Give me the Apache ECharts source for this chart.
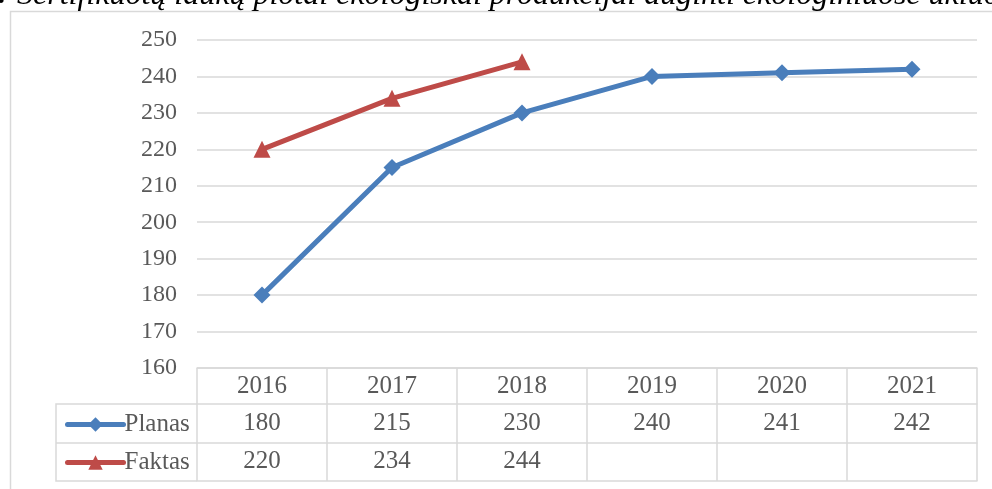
<!DOCTYPE html>
<html><head><meta charset="utf-8">
<script src="https://cdn.jsdelivr.net/npm/echarts@6/dist/echarts.min.js"></script>
<style>html,body{margin:0;padding:0;background:#fff}#c{width:992px;height:489px}</style>
</head><body><div id="c"></div>
<script>
const years = ['2016','2017','2018','2019','2020','2021'];
const planas = [180, 215, 230, 240, 241, 242];
const faktas = [220, 234, 244, null, null, null];
const yTicks = {min: 160, max: 250, interval: 10};
const titleText = 'Sertifikuotų laukų plotai ekologiškai produkcijai auginti ekologiniuose ūkiuose';

const FONT = 'Liberation Serif';
const TXT = '#595959';
const GRIDC = '#D9D9D9';
const BLUE = '#4A7EBB';
const RED = '#BE4B48';

const chart = echarts.init(document.getElementById('c'), null, {renderer: 'canvas'});
const rowLabel = (arr) => (v, i) => (arr[i] == null ? '' : String(arr[i]));
const legendCommon = {left: 60, itemWidth: 56, itemHeight: 18, itemGap: 0,
  lineStyle: {width: 5, cap: 'round'},
  textStyle: {fontFamily: FONT, fontSize: 25, color: TXT, padding: [0,0,0,-4]}};
chart.setOption({
  animation: false,
  backgroundColor: '#fff',
  grid: {left: 197, right: 15, top: 40, bottom: 121, containLabel: false},
  legend: [
    Object.assign({data: ['Planas'], top: 407}, legendCommon),
    Object.assign({data: ['Faktas'], top: 445}, legendCommon)
  ],
  xAxis: [
    {type: 'category', data: years, boundaryGap: true, position: 'bottom', offset: 0,
     axisLine: {show: true, lineStyle: {color: GRIDC, width: 1.5}},
     axisTick: {show: true, length: 113, interval: 0, lineStyle: {color: GRIDC, width: 1.5}},
     axisLabel: {margin: 0, lineHeight: 36, fontFamily: FONT, fontSize: 25, color: TXT, interval: 0}},
    {type: 'category', data: years, position: 'bottom', offset: 36,
     axisLine: {show: true, lineStyle: {color: GRIDC, width: 1.5}}, axisTick: {show: false},
     axisLabel: {margin: 0, lineHeight: 38, fontFamily: FONT, fontSize: 25, color: TXT, interval: 0, formatter: rowLabel(planas)}},
    {type: 'category', data: years, position: 'bottom', offset: 75,
     axisLine: {show: true, lineStyle: {color: GRIDC, width: 1.5}}, axisTick: {show: false},
     axisLabel: {margin: 0, lineHeight: 37, fontFamily: FONT, fontSize: 25, color: TXT, interval: 0, formatter: rowLabel(faktas)}},
    {type: 'category', data: years, position: 'bottom', offset: 113,
     axisLine: {show: true, lineStyle: {color: GRIDC, width: 1.5}}, axisTick: {show: false},
     axisLabel: {show: false}}
  ],
  yAxis: {type: 'value', min: yTicks.min, max: yTicks.max, interval: yTicks.interval,
    axisLine: {show: false}, axisTick: {show: false},
    axisLabel: {margin: 20, fontFamily: FONT, fontSize: 24, color: TXT},
    splitLine: {lineStyle: {color: GRIDC, width: 1.5}}},
  series: [
    {name: 'Planas', type: 'line', data: planas, xAxisIndex: 0,
     symbol: 'diamond', symbolSize: 17, lineStyle: {color: BLUE, width: 5, cap: 'round'},
     itemStyle: {color: BLUE}, z: 3},
    {name: 'Faktas', type: 'line', data: faktas, xAxisIndex: 0,
     symbol: 'triangle', symbolSize: 17, lineStyle: {color: RED, width: 5, cap: 'round'},
     itemStyle: {color: RED}, z: 4}
  ],
  graphic: [
    {type: 'rect', shape: {x: 10.5, y: 11.5, width: 1000, height: 500}, style: {fill: null, stroke: GRIDC, lineWidth: 1.5}, silent: true, z: -1},
    {type: 'polyline', shape: {points: [[197, 404], [56, 404], [56, 481], [197, 481]]}, style: {fill: null, stroke: GRIDC, lineWidth: 1.5}, silent: true},
    {type: 'line', shape: {x1: 56, y1: 443, x2: 197, y2: 443}, style: {stroke: GRIDC, lineWidth: 1.5}, silent: true},
    {type: 'text', left: -3, top: -21, style: {text: '.', font: 'bold 32px ' + FONT, fill: '#000'}},
    {type: 'text', left: 17, top: -20, style: {text: titleText, font: 'italic 32px ' + FONT, fill: '#000'}}
  ]
});
</script></body></html>
